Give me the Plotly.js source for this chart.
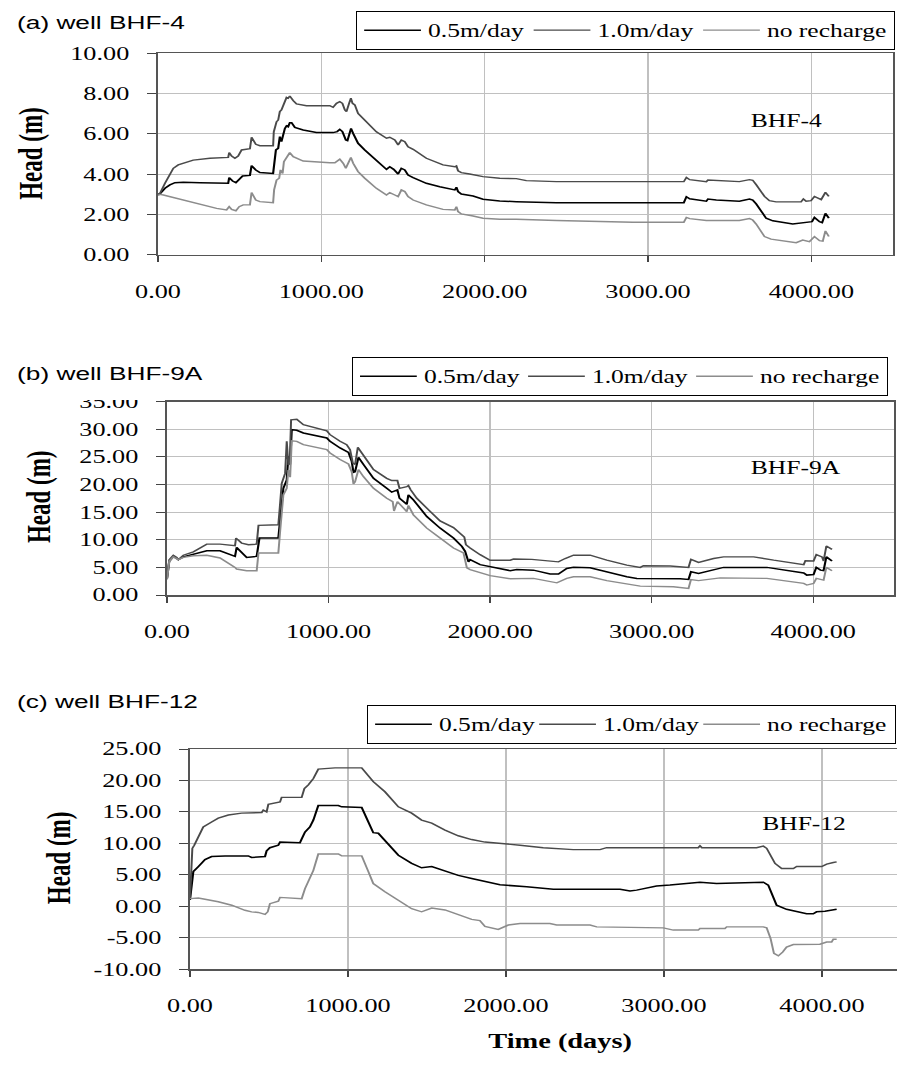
<!DOCTYPE html>
<html><head><meta charset="utf-8">
<script src="https://cdn.plot.ly/plotly-3.0.1.min.js"></script>
<style>
html,body{margin:0;padding:0;background:#fff;overflow:hidden;width:897px;height:1065px;}
#clip{width:897px;height:1065px;overflow:hidden;position:relative;}
#stretch{width:632px;height:1065px;transform:scaleX(1.41930);transform-origin:0 0;}
#chart{width:632px;height:1065px;}
</style></head><body>
<div id="clip"><div id="stretch"><div id="chart"></div></div></div>
<script>
// ---------- data ----------
var seriesNames = ["0.5m/day", "1.0m/day", "no recharge"];
var panelTitles = ["(a) well BHF-4", "(b) well BHF-9A", "(c) well BHF-12"];
var wellLabels = ["BHF-4", "BHF-9A", "BHF-12"];
var xTickVals = [0, 1000, 2000, 3000, 4000];
var xTickText = ["0.00", "1000.00", "2000.00", "3000.00", "4000.00"];
var yTickValsA = [0, 2, 4, 6, 8, 10];
var yTickTextA = ["0.00", "2.00", "4.00", "6.00", "8.00", "10.00"];
var yTickValsB = [0, 5, 10, 15, 20, 25, 30, 35];
var yTickTextB = ["0.00", "5.00", "10.00", "15.00", "20.00", "25.00", "30.00", "35.00"];
var yTickValsC = [-10, -5, 0, 5, 10, 15, 20, 25];
var yTickTextC = ["-10.00", "-5.00", "0.00", "5.00", "10.00", "15.00", "20.00", "25.00"];

// (a) BHF-4
var dayA05 = [0,12,43,73,104,155,257,430,436,457,477,497,518,563,573,599,624,705,711,722,736,746,756,767,777,787,797,807,818,838,889,970,1072,1097,1113,1129,1150,1160,1174,1182,1195,1225,1266,1337,1399,1419,1443,1470,1490,1511,1531,1562,1643,1725,1817,1827,1837,1857,1929,1990,2092,2194,2439,3219,3235,3255,3316,3357,3367,3418,3559,3621,3641,3662,3723,3764,3886,3947,4004,4019,4050,4066,4086,4107];
var headA05 = [3.0,3.02,3.3,3.47,3.58,3.6,3.58,3.55,3.83,3.66,3.58,3.75,3.91,3.94,4.42,4.21,4.08,4.04,4.7,5.2,5.28,5.86,5.61,6.1,6.27,6.39,6.35,6.55,6.55,6.32,6.19,6.07,6.06,6.11,6.22,6.11,5.69,5.66,6.19,6.27,6.02,5.53,5.2,4.7,4.24,4.37,4.24,4.01,4.29,4.21,3.96,3.83,3.55,3.38,3.22,3.35,3.14,3.02,2.92,2.76,2.67,2.64,2.59,2.59,2.88,2.78,2.7,2.66,2.77,2.72,2.66,2.77,2.72,2.53,1.82,1.69,1.54,1.6,1.65,1.86,1.65,1.6,2.06,1.82];
var dayA10 = [0,12,43,73,94,124,155,216,318,430,436,451,471,491,512,563,573,599,624,705,709,726,736,746,756,767,777,787,797,807,828,848,909,1052,1072,1093,1113,1129,1144,1154,1170,1181,1191,1205,1225,1256,1337,1399,1419,1450,1470,1490,1511,1531,1562,1643,1745,1817,1827,1837,1857,1908,1990,2092,2194,2255,2439,3219,3235,3255,3316,3357,3367,3418,3559,3621,3641,3662,3713,3743,3784,3937,3951,3968,3998,4019,4050,4060,4086,4107];
var headA10 = [3.0,3.05,3.55,4.04,4.29,4.46,4.54,4.7,4.79,4.83,5.07,4.9,4.79,4.9,5.2,5.26,5.83,5.48,5.41,5.41,6.1,6.6,6.68,7.1,7.18,7.43,7.67,7.8,7.76,7.87,7.64,7.48,7.39,7.39,7.31,7.51,7.59,7.51,7.18,7.1,7.51,7.76,7.51,7.43,7.01,6.77,6.1,5.78,5.83,5.69,5.45,5.69,5.61,5.36,5.23,4.79,4.46,4.37,4.41,4.17,4.08,4.01,3.88,3.8,3.78,3.68,3.63,3.63,3.84,3.73,3.65,3.63,3.71,3.68,3.63,3.73,3.7,3.48,2.9,2.69,2.63,2.63,2.77,2.66,2.69,2.9,2.77,2.74,3.1,2.9];
var dayA00 = [0,12,33,73,155,257,359,420,436,451,477,497,522,563,573,599,624,705,711,726,742,750,763,771,783,797,807,828,889,1052,1083,1113,1134,1150,1164,1181,1195,1225,1266,1337,1399,1419,1450,1470,1490,1511,1531,1562,1643,1745,1817,1827,1837,1857,1929,1990,2092,2194,2439,2908,3219,3235,3255,3357,3559,3621,3641,3662,3713,3753,3907,3947,3988,4019,4050,4070,4086,4107];
var headA00 = [2.95,3.0,2.97,2.89,2.72,2.52,2.31,2.23,2.39,2.26,2.19,2.39,2.48,2.48,3.09,2.72,2.64,2.59,3.22,3.71,3.8,4.21,4.04,4.62,4.79,5.0,5.07,4.87,4.65,4.57,4.57,4.74,4.54,4.29,4.54,4.83,4.54,4.13,3.8,3.3,2.97,3.09,2.97,2.89,3.22,3.14,2.89,2.72,2.48,2.26,2.23,2.39,2.15,2.03,1.93,1.82,1.77,1.77,1.71,1.62,1.62,1.86,1.8,1.71,1.71,1.8,1.73,1.53,0.91,0.78,0.61,0.74,0.66,0.91,0.71,0.68,1.19,0.91];

// (b) BHF-9A
var dayB05 = [0,8,14,39,70,101,163,246,328,421,431,493,555,572,689,700,720,741,751,762,772,803,844,989,1009,1071,1123,1143,1154,1164,1185,1216,1278,1360,1391,1426,1439,1484,1494,1525,1608,1690,1773,1825,1845,1866,1876,1938,2000,2124,2165,2268,2371,2423,2474,2516,2619,2722,2846,2908,3176,3228,3243,3290,3404,3445,3713,3941,3960,4002,4019,4045,4064,4081,4116];
var headB05 = [3.0,4.5,6.1,7.0,6.4,6.9,7.4,8.0,8.0,7.0,8.6,6.8,7.0,10.3,10.3,13.3,19.3,20.8,25.1,23.6,29.9,29.8,29.3,28.4,27.8,26.6,25.8,24.2,22.2,22.3,24.9,23.6,21.1,19.3,18.6,19.0,17.5,16.4,18.1,17.2,14.2,12.1,10.3,8.8,7.9,6.0,6.4,5.5,5.1,4.4,4.6,4.5,3.8,3.8,4.8,5.0,4.94,4.2,3.3,3.0,2.95,2.8,4.2,3.9,4.8,5.0,5.0,4.0,3.6,3.7,5.0,4.5,4.4,6.9,6.15];
var dayB10 = [0,8,14,39,60,70,101,163,246,328,421,427,462,504,555,566,617,689,696,710,731,741,751,760,768,803,844,989,1009,1071,1112,1133,1150,1164,1181,1205,1236,1278,1360,1391,1426,1439,1484,1494,1509,1546,1608,1690,1773,1814,1825,1840,1850,1876,1938,2000,2124,2145,2258,2423,2464,2516,2619,2722,2846,2929,2949,3114,3228,3243,3290,3383,3445,3631,3755,3941,3951,4002,4019,4054,4064,4081,4116];
var headB10 = [3.0,4.5,6.4,7.17,6.8,6.4,7.2,7.8,9.2,9.2,8.9,10.3,9.4,9.1,9.2,12.6,12.65,12.7,15.1,20.2,22.0,27.8,23.5,24.5,31.7,31.8,30.8,29.7,29.0,27.8,27.2,26.3,23.9,23.6,26.7,25.7,24.2,22.7,21.1,20.7,20.7,19.3,19.6,19.8,19.0,17.5,15.7,13.4,12.2,11.2,11.0,10.5,9.1,8.5,7.3,6.3,6.3,6.5,6.45,6.0,6.6,7.2,7.2,6.3,5.4,5.0,5.3,5.24,5.0,6.45,5.9,6.6,6.9,6.9,6.3,5.5,6.2,6.15,7.3,6.9,6.15,8.85,8.25];
var dayB00 = [0,8,14,39,70,101,163,246,328,421,431,493,555,566,689,700,720,741,751,762,772,803,844,989,1009,1071,1123,1143,1154,1164,1185,1216,1278,1360,1397,1405,1426,1484,1494,1525,1608,1690,1773,1835,1856,1876,1938,2000,2124,2268,2413,2474,2516,2619,2722,2929,3134,3228,3243,3290,3424,3713,3941,3960,4002,4019,4064,4081,4116];
var headB00 = [2.8,4.5,6.1,6.9,6.4,6.8,7.1,7.2,6.7,5.0,4.7,4.4,4.4,7.6,7.6,11.5,18.1,19.3,22.6,21.3,27.9,27.8,27.2,26.3,25.7,24.5,23.7,22.3,20.1,20.5,22.7,21.4,19.3,17.5,16.9,15.2,16.9,15.1,16.2,14.5,12.1,10.3,8.5,7.6,4.9,4.6,4.0,3.5,2.95,3.0,2.2,3.0,3.3,3.3,2.6,1.6,1.5,1.2,2.8,2.6,3.1,3.0,2.1,1.8,2.1,3.0,2.7,5.0,4.4];

// (c) BHF-12
var dayC05 = [0,11,21,53,95,137,222,369,390,475,485,506,559,570,696,707,728,759,781,812,939,960,1087,1129,1160,1192,1234,1319,1403,1466,1530,1614,1698,1783,1867,1962,2131,2300,2722,2785,2827,2953,3038,3228,3333,3608,3629,3660,3713,3776,3840,3903,3945,3966,4019,4051,4093];
var headC05 = [1.0,3.3,5.5,6.3,7.4,7.9,8.0,8.0,7.75,7.9,8.8,9.3,9.7,10.2,10.1,10.7,11.8,12.6,13.7,16.0,16.0,15.8,15.7,13.4,11.7,11.6,10.5,8.1,6.8,6.1,6.3,5.6,4.9,4.4,3.9,3.4,3.1,2.7,2.7,2.4,2.55,3.2,3.35,3.8,3.6,3.7,3.8,3.35,0.15,-0.5,-0.9,-1.2,-1.2,-0.9,-0.8,-0.65,-0.5];
var dayC10 = [0,15,27,53,84,137,179,243,327,454,464,485,496,570,580,707,724,749,781,812,918,1087,1160,1234,1319,1403,1466,1530,1614,1698,1783,1867,1962,2089,2236,2426,2595,2637,3217,3228,3240,3586,3629,3650,3703,3745,3819,3840,3998,4030,4072,4093];
var headC10 = [1.2,9.2,9.7,11.0,12.6,13.4,14.0,14.5,14.8,14.9,15.3,15.0,16.2,16.6,17.3,17.3,18.7,19.3,20.3,21.8,22.0,22.0,19.8,18.2,15.8,14.8,13.7,13.2,12.1,11.2,10.6,10.2,10.0,9.7,9.3,9.0,9.0,9.3,9.3,9.6,9.3,9.3,9.55,9.2,6.8,6.0,6.0,6.3,6.3,6.7,6.95,7.05];
var dayC00 = [0,53,95,179,264,348,390,432,475,492,506,559,570,707,728,759,781,812,939,960,1087,1129,1160,1234,1319,1403,1466,1530,1614,1698,1783,1835,1867,1951,2015,2089,2278,2321,2532,2574,2996,3059,3217,3228,3386,3397,3629,3650,3675,3696,3724,3751,3776,3819,3987,4030,4061,4072,4093];
var headC00 = [1.2,1.3,1.1,0.7,0.15,-0.65,-0.9,-1.0,-1.3,-0.9,0.4,0.8,1.4,1.2,2.8,4.4,5.7,8.3,8.3,8.0,8.0,5.5,3.6,2.3,1.0,-0.4,-0.9,-0.3,-0.6,-1.3,-2.1,-2.3,-3.2,-3.7,-3.0,-2.75,-2.75,-3.0,-3.0,-3.3,-3.45,-3.8,-3.8,-3.55,-3.55,-3.3,-3.3,-3.45,-5.15,-7.5,-7.9,-7.3,-6.5,-6.1,-6.05,-5.7,-5.7,-5.25,-5.25];

// ---------- styling ----------
var SERIF = "Liberation Serif, 'Times New Roman', serif";
var SANS = "Liberation Sans, Arial, sans-serif";
var colors = ["#000000", "#4a4a4a", "#8c8c8c"];
var widths = [1.5, 1.4, 1.4];
var entryW = {legend: 64.4, legend2: 63.4, legend3: 60.6};

function tr(x, y, k, axSuffix, leg) {
  var t = {x: x, y: y, type: "scatter", mode: "lines", name: seriesNames[k],
    line: {color: colors[k], width: widths[k]},
    xaxis: "x" + axSuffix, yaxis: "y" + axSuffix, legend: leg, showlegend: true,
    hoverinfo: "skip"};
  if (k < 2) t.legendwidth = entryW[leg];
  return t;
}
var data = [
  tr(dayA05, headA05, 0, "", "legend"), tr(dayA10, headA10, 1, "", "legend"), tr(dayA00, headA00, 2, "", "legend"),
  tr(dayB05, headB05, 0, "2", "legend2"), tr(dayB10, headB10, 1, "2", "legend2"), tr(dayB00, headB00, 2, "2", "legend2"),
  tr(dayC05, headC05, 0, "3", "legend3"), tr(dayC10, headC10, 1, "3", "legend3"), tr(dayC00, headC00, 2, "3", "legend3")
];

function xax(domain, range, anchor) {
  return {domain: domain, range: range, anchor: anchor, tickmode: "array", tickvals: xTickVals, ticktext: xTickText,
    showgrid: true, gridcolor: "#c0c0c0", gridwidth: 1, showline: true, mirror: true, linecolor: "#555", linewidth: 1.5,
    ticks: "outside", ticklen: 6, tickcolor: "#444", tickwidth: 1, ticklabelstandoff: 13,
    tickfont: {family: SERIF, size: 18.5, color: "#000"}, zeroline: false, fixedrange: true};
}
function yax(domain, range, anchor, tv, tt, mirror) {
  return {domain: domain, range: range, anchor: anchor, tickmode: "array", tickvals: tv, ticktext: tt,
    showgrid: true, gridcolor: "#c0c0c0", gridwidth: 1, showline: true, mirror: mirror, linecolor: "#555", linewidth: 1.5,
    ticks: "outside", ticklen: 6, tickcolor: "#444", tickwidth: 1, ticklabelstandoff: 9,
    tickfont: {family: SERIF, size: 18.5, color: "#000"}, zeroline: false, fixedrange: true};
}
function leg(x, y) {
  return {x: x, y: y, xanchor: "right", yanchor: "top", orientation: "h", bgcolor: "#fff",
    bordercolor: "#000", borderwidth: 1, itemwidth: 40, tracegroupgap: 0,
    font: {family: SERIF, size: 18, color: "#000"}};
}
function ann(text, x, y, font, xanchor, angle) {
  return {text: text, x: x, y: y, xref: "paper", yref: "paper", showarrow: false,
    xanchor: xanchor || "center", yanchor: "middle", textangle: angle || 0, font: font};
}
var layout = {
  width: 632, height: 1065, margin: {l: 0, r: 0, t: 0, b: 0},
  paper_bgcolor: "#fff", plot_bgcolor: "#fff", showlegend: true,
  xaxis: xax([0.1761, 0.9956], [0, 4500], "y"),
  yaxis: yax([0.7606, 0.9502], [0, 10], "x", yTickValsA, yTickTextA, true),
  xaxis2: xax([0.1862, 0.9967], [0, 4500], "y2"),
  yaxis2: yax([0.4413, 0.6230], [0, 35], "x2", yTickValsB, yTickTextB, true),
  xaxis3: xax([0.2118, 1.0], [0, 4475], "y3"),
  yaxis3: yax([0.0901, 0.2967], [-10, 25], "x3", yTickValsC, yTickTextC, false),
  legend: leg(895/897, 0.9897),
  legend2: leg(888/897, 0.6648),
  legend3: leg(896/897, 0.3380),
  shapes: [
    {type: "rect", xref: "paper", yref: "paper", x0: 0.05, x1: 0.172, y0: 1 - 400/1065, y1: 1 - 384/1065,
     fillcolor: "#fff", line: {width: 0}, layer: "above"}
  ],
  annotations: [
    ann(panelTitles[0], 0.0156, 1 - 22.5/1065, {family: SANS, size: 18.5, color: "#000"}, "left"),
    ann(panelTitles[1], 0.0156, 1 - 373.5/1065, {family: SANS, size: 18.5, color: "#000"}, "left"),
    ann(panelTitles[2], 0.0156, 1 - 701/1065, {family: SANS, size: 18.5, color: "#000"}, "left"),
    ann(wellLabels[0], 0.8763, 1 - 121.5/1065, {family: SERIF, size: 18, color: "#000"}),
    ann(wellLabels[1], 0.8868, 1 - 468/1065, {family: SERIF, size: 18, color: "#000"}),
    ann(wellLabels[2], 0.8963, 1 - 823.7/1065, {family: SERIF, size: 18, color: "#000"}),
    ann("<b>Head (m)</b>", 31/897, 1 - 153/1065, {family: SERIF, size: 23, color: "#000"}, "center", -90),
    ann("<b>Head (m)</b>", 38.5/897, 1 - 497/1065, {family: SERIF, size: 23, color: "#000"}, "center", -90),
    ann("<b>Head (m)</b>", 58.5/897, 1 - 858/1065, {family: SERIF, size: 23, color: "#000"}, "center", -90),
    ann("<b>Time (days)</b>", 560/897, 1 - 1041/1065, {family: SERIF, size: 20, color: "#000"})
  ]
};
Plotly.newPlot("chart", data, layout, {displayModeBar: false, staticPlot: true});
</script></body></html>
